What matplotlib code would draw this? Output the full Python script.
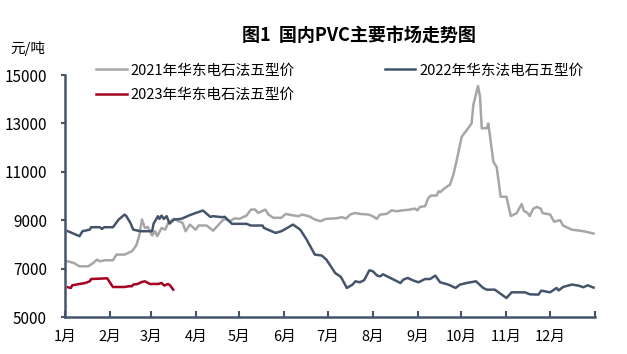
import matplotlib.pyplot as plt
import numpy as np

plt.rcParams['font.family'] = ['Noto Sans CJK SC', 'DejaVu Sans']

# day of year, price (元/吨)
d2021 = [2, 6, 10, 16, 19.5, 22, 24, 27.5, 33, 35.5, 41, 46, 49, 51, 53, 55, 57, 60, 62, 63.5,
         66.5, 69, 71, 75, 78, 81, 83, 86, 90, 92, 97.5, 102, 108, 110, 113.5, 117, 120, 125,
         128, 131, 133, 138, 140, 143.5, 149, 152, 156, 161, 163, 168, 172, 176, 179.5, 187,
         190.6, 193.6, 196.4, 199.8, 203, 209, 212, 214.6, 217, 221.5, 225, 228, 233, 237.5,
         241, 242.6, 244.5, 248, 250, 252, 256, 257.3, 258.5, 261, 264, 265, 267.4, 269.8,
         273.2, 277, 280, 281.2, 284.4, 285.8, 287, 290.4, 291.5, 295, 297.3, 300, 304, 307,
         311, 314.5, 316, 318.4, 320, 322.5, 325, 327.6, 329, 334, 336.8, 341, 343, 349, 357, 364]
p2021 = [7300, 7235, 7095, 7095, 7235, 7370, 7300, 7345, 7345, 7580, 7580, 7715, 7950, 8340, 9030,
         8680, 8720, 8370, 8545, 8340, 8680, 8610, 8890, 9055, 8960, 8890, 8545, 8820, 8610, 8780,
         8780, 8570, 8960, 9055, 8960, 9080, 9055, 9190, 9440, 9440, 9300, 9440, 9235, 9100, 9100,
         9260, 9210, 9165, 9235, 9165, 9030, 8960, 9055, 9080, 9125, 9070, 9235, 9300, 9260, 9235,
         9165, 9055, 9235, 9260, 9410, 9370, 9410, 9440, 9480, 9410, 9550, 9580, 9900, 10020, 10020,
         10200, 10160, 10300, 10430, 10455, 10870, 11490, 12450, 12750, 13000, 13760, 14545, 14100,
         12800, 12800, 13000, 11420, 11190, 9970, 9970, 9170, 9290, 9670, 9380, 9310, 9170, 9480,
         9550, 9480, 9290, 9240, 8940, 9000, 8780, 8610, 8545, 8450]

d2022 = [2, 10, 12, 17, 18, 24, 25.5, 27, 33, 37, 41, 42, 45, 47, 52, 60, 61, 64, 65, 66.5, 68,
         70, 72, 75, 80, 86, 90, 95, 100, 102, 108, 110, 115, 125, 128, 136, 137, 145, 149, 153,
         157, 162, 166.4, 172, 176.8, 180, 183, 186, 190, 194.1, 198, 200, 203, 206, 209.6, 212,
         215, 217, 219, 224, 231, 233, 236, 240, 243.4, 248, 251.4, 255, 258.3, 264, 269, 272,
         276.6, 283, 288, 290.4, 296, 304, 307.6, 316.8, 320, 326, 328, 334, 338.6, 340, 343, 349,
         353.4, 357, 360, 364]
p2022 = [8545, 8340, 8545, 8610, 8710, 8710, 8640, 8710, 8710, 9030, 9230, 9190, 8890, 8610, 8545,
         8545, 8860, 9165, 9055, 9190, 9055, 9165, 8860, 9030, 9055, 9210, 9300, 9400, 9140, 9165,
         9125, 9140, 8850, 8850, 8780, 8780, 8680, 8475, 8545, 8680, 8820, 8610, 8200, 7580, 7540,
         7370, 7100, 6820, 6655, 6200, 6340, 6475, 6435, 6520, 6930, 6890, 6710, 6680, 6765, 6615,
         6405, 6545, 6615, 6505, 6435, 6570, 6570, 6710, 6435, 6340, 6200, 6340, 6405, 6475, 6200,
         6130, 6130, 5785, 6020, 6020, 5940, 5925, 6090, 6020, 6200, 6100, 6240, 6340, 6300, 6230,
         6310, 6215]

d2023 = [2, 4, 5, 10, 14, 17, 18, 24, 29, 33, 41, 44, 46, 47, 50, 53, 55, 58.5, 64, 66.5, 68.4,
         71, 72.3, 74.5]
p2023 = [6230, 6200, 6310, 6365, 6405, 6475, 6570, 6585, 6600, 6240, 6240, 6270, 6270, 6340, 6365,
         6450, 6475, 6365, 6365, 6405, 6300, 6365, 6310, 6130]

month_starts = [0, 31, 59, 90, 120, 151, 181, 212, 243, 273, 304, 334, 365]
month_labels = ['1月', '2月', '3月', '4月', '5月', '6月', '7月', '8月', '9月', '10月', '11月', '12月']

navy = '#44546A'
fig = plt.figure(figsize=(6.27, 3.54), dpi=100)
ax = fig.add_axes([0.1037, 0.1045, 0.8453, 0.6836])

l1, = ax.plot(d2021, p2021, color='#A6A6A6', lw=1.8, label='2021年华东电石法五型价')
l2, = ax.plot(d2022, p2022, color=navy, lw=1.8, label='2022年华东法电石五型价')
l3, = ax.plot(d2023, p2023, color='#A50021', lw=1.8, label='2023年华东电石法五型价')

ax.set_xlim(0, 365)
ax.set_ylim(5000, 15000)
ax.set_yticks(np.arange(5000, 15001, 2000))
ax.set_xticks(month_starts)
ax.set_xticklabels(month_labels + [''])
for s in ['top', 'right']:
    ax.spines[s].set_visible(False)
for s in ['left', 'bottom']:
    ax.spines[s].set_color(navy)
    ax.spines[s].set_linewidth(1.8)
ax.tick_params(axis='x', direction='in', length=4, color=navy, width=1.5, labelsize=10.5, pad=9)
ax.tick_params(axis='y', direction='out', length=3, color=navy, width=1.5, labelsize=11, pad=10)

fig.legend(handles=[l1, l3, l2], ncol=2, loc='upper left', bbox_to_anchor=(0.153, 0.821),
           frameon=False, fontsize=10.5, handlelength=2.1, handletextpad=0.25,
           columnspacing=6.2, labelspacing=0.75, borderaxespad=0, borderpad=0)

fig.text(0.5726, 0.901, '图1  国内PVC主要市场走势图', ha='center', va='center',
         fontsize=13, fontweight='bold')
fig.text(0.016, 0.864, '元/吨', ha='left', va='center', fontsize=10.5)

fig.savefig('out.png', dpi=100)
